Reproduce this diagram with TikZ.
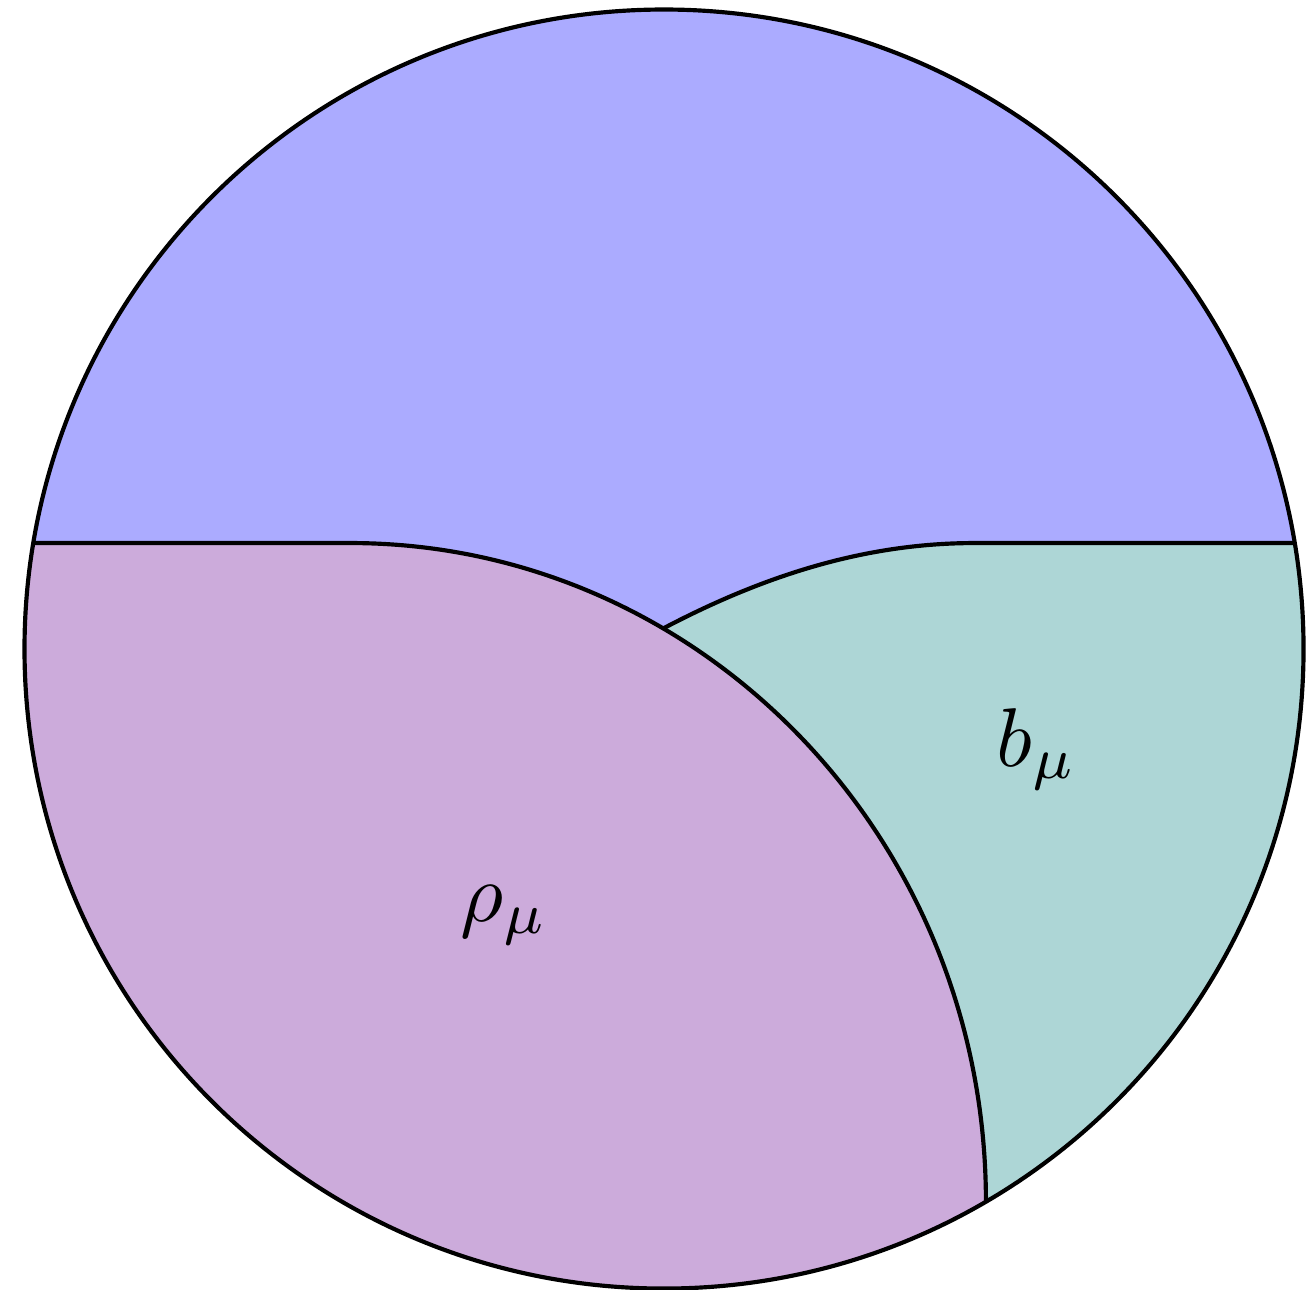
\documentclass[tikz,border=0pt]{standalone}
\begin{document}
\begin{tikzpicture}[x=0.12pt,y=0.12pt,line width=0.5pt,
  bluefill/.style={fill={rgb,255:red,171;green,171;blue,255}},
  purplefill/.style={fill={rgb,255:red,204;green,171;blue,219}},
  tealfill/.style={fill={rgb,255:red,173;green,214;blue,214}},
  border/.style={draw=black,line join=round}]
\useasboundingbox (0,0) rectangle (1315,1289);
\coordinate (C) at (664,640);
\coordinate (L) at (33.3,746);
\coordinate (R) at (1294.7,746);
\coordinate (P) at (350,746);
\coordinate (B) at (985.9,87.4);
\coordinate (J) at (664,661);
\coordinate (T) at (975,746);
% blue disc
\fill[bluefill] (C) circle[radius=639.5];
% teal region (with chord under purple)
\fill[tealfill] (J) .. controls (780,722) and (880,746) .. (T) -- (R)
  arc[start angle=9.54, end angle=-59.8, radius=639.5] -- cycle;
% purple region
\fill[purplefill] (L) -- (P) .. controls (701,746) and (985.9,451) .. (B)
  arc[start angle=-59.8, end angle=-189.54, radius=639.5] -- cycle;
% borders
\draw[border] (C) circle[radius=639.5];
\draw[border] (L) -- (P) .. controls (701,746) and (985.9,451) .. (B);
\draw[border] (J) .. controls (780,722) and (880,746) .. (T) -- (R);
% labels
\node (rho) at (504,374) {$\rho_\mu$};
\node (b) at (1037,540) {$b_\mu$};
\end{tikzpicture}
\end{document}
